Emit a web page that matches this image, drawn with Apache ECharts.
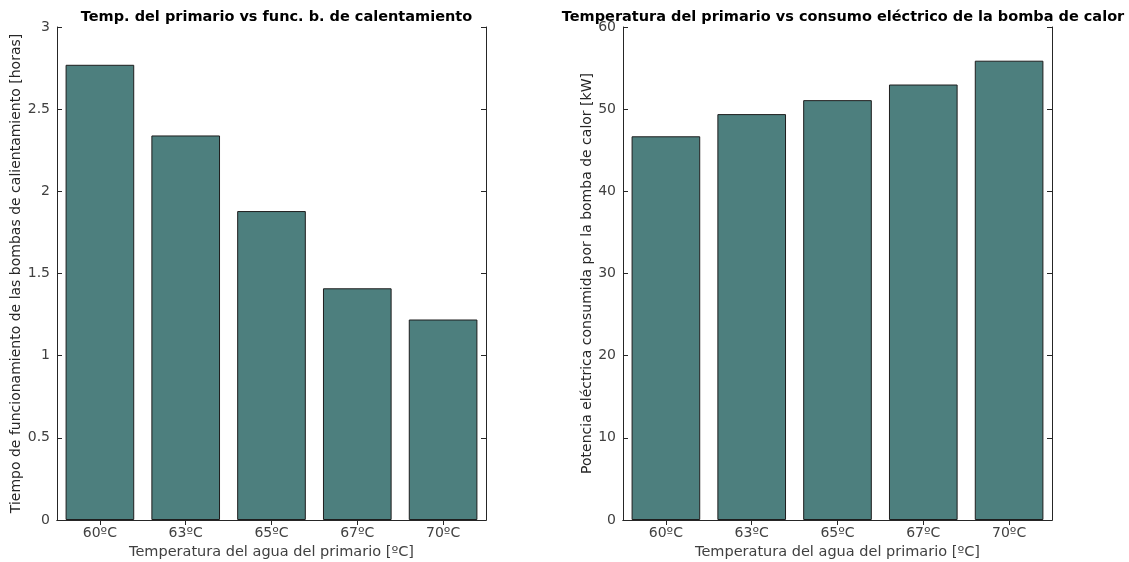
<!DOCTYPE html>
<html><head><meta charset="utf-8">
<script src="https://cdn.jsdelivr.net/npm/echarts@6/dist/echarts.min.js"></script>
<style>html,body{margin:0;padding:0;background:#fff}#c{width:1129px;height:562px}</style>
</head><body><div id="c"></div>
<script>
const categories = ['60ºC', '63ºC', '65ºC', '67ºC', '70ºC'];
const horasValues = [2.77, 2.34, 1.88, 1.41, 1.22];
const potenciaValues = [46.7, 49.4, 51.1, 53.0, 55.9];
const leftTitle = 'Temp. del primario vs func. b. de calentamiento';
const rightTitle = 'Temperatura del primario vs consumo eléctrico de la bomba de calor';
const xName = 'Temperatura del agua del primario [ºC]';
const leftYName = 'Tiempo de funcionamiento de las bombas de calientamiento [horas]';
const rightYName = 'Potencia eléctrica consumida por la bomba de calor [kW]';

const FONT = 'DejaVu Sans';
const AX = '#262626';
const tickStyle = {show: true, inside: true, length: 5, lineStyle: {color: AX, width: 1}};
function xAxes(gi) {
  return [
    {type: 'category', gridIndex: gi, data: categories, position: 'bottom', boundaryGap: true,
     axisLine: {lineStyle: {color: AX, width: 1}}, axisTick: Object.assign({alignWithLabel: true}, tickStyle),
     axisLabel: {fontFamily: FONT, fontSize: 14, color: '#404040', margin: 6},
     name: xName, nameLocation: 'middle', nameGap: 24,
     nameTextStyle: {fontFamily: FONT, fontSize: 14.5, color: '#404040'}},
    {type: 'category', gridIndex: gi, data: categories, position: 'top', boundaryGap: true,
     axisLine: {lineStyle: {color: AX, width: 1}}, axisTick: Object.assign({alignWithLabel: true}, tickStyle),
     axisLabel: {show: false}}
  ];
}
function yAxes(gi, max, interval, name, gap) {
  return [
    {type: 'value', gridIndex: gi, min: 0, max: max, interval: interval, position: 'left',
     axisLine: {show: true, lineStyle: {color: AX, width: 1}}, axisTick: tickStyle, splitLine: {show: false},
     axisLabel: {fontFamily: FONT, fontSize: 14, color: '#404040', margin: 7},
     name: name, nameLocation: 'middle', nameGap: gap, nameRotate: 90,
     nameTextStyle: {fontFamily: FONT, fontSize: 14, color: '#262626'}},
    {type: 'value', gridIndex: gi, min: 0, max: max, interval: interval, position: 'right',
     axisLine: {show: true, lineStyle: {color: AX, width: 1}}, axisTick: tickStyle, splitLine: {show: false},
     axisLabel: {show: false}}
  ];
}
const barStyle = {color: '#4d7f7e', borderColor: '#1e1e1e', borderWidth: 1};
const chart = echarts.init(document.getElementById('c'), null, {renderer: 'canvas'});
chart.setOption({
  animation: false,
  backgroundColor: '#ffffff',
  title: [
    {text: leftTitle, left: 271.5, textAlign: 'center', top: 5,
     textStyle: {fontFamily: FONT, fontSize: 14.5, fontWeight: 'bold', color: '#000'}},
    {text: rightTitle, left: 838, textAlign: 'center', top: 5,
     textStyle: {fontFamily: FONT, fontSize: 14.5, fontWeight: 'bold', color: '#000'}}
  ],
  grid: [
    {left: 57, right: 643, top: 27, bottom: 42, outerBoundsMode: 'none', containLabel: false},
    {left: 623, right: 77, top: 27, bottom: 42, outerBoundsMode: 'none', containLabel: false}
  ],
  xAxis: xAxes(0).concat(xAxes(1)),
  yAxis: yAxes(0, 3, 0.5, leftYName, 34).concat(yAxes(1, 60, 10, rightYName, 28)),
  series: [
    {type: 'bar', xAxisIndex: 0, yAxisIndex: 0, data: horasValues, barWidth: '80%', itemStyle: barStyle},
    {type: 'bar', xAxisIndex: 2, yAxisIndex: 2, data: potenciaValues, barWidth: '80%', itemStyle: barStyle}
  ]
});
</script></body></html>
